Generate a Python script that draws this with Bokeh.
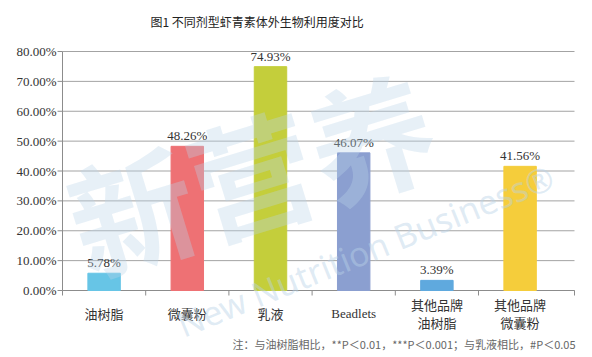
from bokeh.plotting import figure
from bokeh.models import Range1d, ColumnDataSource
from bokeh.core.properties import value
from bokeh.embed import file_html
from bokeh.resources import INLINE

# ---- data ----
categories = ["油树脂", "微囊粉", "乳液", "Beadlets", "其他品牌\n油树脂", "其他品牌\n微囊粉"]
values = [5.78, 48.26, 74.93, 46.07, 3.39, 41.56]
value_labels = ["5.78%", "48.26%", "74.93%", "46.07%", "3.39%", "41.56%"]
colors = ["#67c5e6", "#ee7174", "#c4ce3b", "#8b9fd0", "#5fa9de", "#f5cd3b"]
y_ticks = [0, 10, 20, 30, 40, 50, 60, 70, 80]
y_tick_labels = ["0.00%", "10.00%", "20.00%", "30.00%", "40.00%", "50.00%", "60.00%", "70.00%", "80.00%"]
title_text = "图1  不同剂型虾青素体外生物利用度对比"
note_text = "注：与油树脂相比，**P＜0.01，***P＜0.001；与乳液相比，#P＜0.05"

# ---- layout (pixels) ----
W, H = 592, 357
PL, PR, PT, PB = 62, 574, 51, 290   # plot-area edges in canvas pixels
CAT_W = 83.2
y_max = 80
ppu_y = (PB - PT) / y_max
x_end = (PR - PL) / CAT_W
LINE_PX = 17.5


def sx(px):
    return (px - PL) / CAT_W


def sy(py):
    return (PB - py) / ppu_y


p = figure(width=W, height=H,
           x_range=Range1d(sx(0), sx(W)), y_range=Range1d(sy(H), sy(0)),
           output_backend="svg", toolbar_location=None,
           min_border=0, min_border_left=0, min_border_right=0,
           min_border_top=0, min_border_bottom=0)
p.xaxis.visible = False
p.yaxis.visible = False
p.grid.visible = False
p.outline_line_color = None
p.background_fill_color = "white"
p.border_fill_color = "white"

AX = "#8c8c8c"
GRID = "#a3a3a3"
tick_len_x = 5 / CAT_W
tick_len_y = 5 / ppu_y

# gridlines
p.segment(x0=[0] * len(y_ticks), x1=[x_end] * len(y_ticks), y0=y_ticks, y1=y_ticks,
          line_color=GRID, line_width=1)

# y axis line, ticks, labels
p.segment(x0=[0], x1=[0], y0=[0], y1=[y_max], line_color=AX, line_width=1)
p.segment(x0=[-tick_len_x] * len(y_ticks), x1=[0] * len(y_ticks), y0=y_ticks, y1=y_ticks,
          line_color=AX, line_width=1)
p.text(x=[sx(56)] * len(y_ticks), y=y_ticks, text=y_tick_labels,
       text_align="right", text_baseline="middle",
       text_font=value("Liberation Serif"), text_font_size="13px", text_color="#333333")

# x axis line and boundary ticks
bounds = [0, 1, 2, 3, 4, 5, x_end]
p.segment(x0=[0], x1=[x_end], y0=[0], y1=[0], line_color=AX, line_width=1)
p.segment(x0=bounds, x1=bounds, y0=[0] * len(bounds), y1=[-tick_len_y] * len(bounds),
          line_color=AX, line_width=1)

xs = [i + 0.5 for i in range(len(categories))]
src = ColumnDataSource(dict(x=xs, top=values, color=colors, label=value_labels,
                            label_y=[v + 3 / ppu_y for v in values]))

# bars
p.vbar(x="x", top="top", bottom=0, width=0.39, color="color", source=src)

# value labels
p.text(x="x", y="label_y", text="label", source=src,
       text_align="center", text_baseline="bottom",
       text_font=value("Liberation Serif"), text_font_size="13px", text_color="#333333")

# category labels: each line centred as a block around y = 313 px
cx, cy, ct, cf = [], [], [], []
for xc, cat in zip(xs, categories):
    lines = cat.split("\n")
    n = len(lines)
    for k, ln in enumerate(lines):
        cx.append(xc)
        cy.append(sy(313 + (k - (n - 1) / 2) * LINE_PX))
        ct.append(ln)
        cf.append("Liberation Serif" if ln.isascii() else "Noto Sans CJK SC")
cat_src = ColumnDataSource(dict(x=cx, y=cy, text=ct, font=cf))
p.text(x="x", y="y", text="text", text_font="font", source=cat_src,
       text_align="center", text_baseline="middle",
       text_font_size="13px", text_color="#333333")

# title
p.text(x=[sx(258)], y=[sy(21)], text=[title_text], text_align="center",
       text_baseline="middle", text_font=value("Noto Sans CJK SC"),
       text_font_size="12px", text_color="#222222")

# note
p.text(x=[sx(575)], y=[sy(343)], text=[note_text], text_align="right",
       text_baseline="middle", text_font=value("Noto Sans CJK SC"),
       text_font_size="11px", text_color="#666666")

# faint watermark
p.text(x=[sx(250)], y=[sy(170)], text=["新营养"], text_align="center",
       text_baseline="middle", text_font=value("Noto Sans CJK SC"),
       text_font_size="125px", text_font_style="bold",
       text_color="#b9d3e8", text_alpha=0.35, angle=17, angle_units="deg")
p.text(x=[sx(365)], y=[sy(250)], text=["New Nutrition Business®"], text_align="center",
       text_baseline="middle", text_font=value("Noto Sans"),
       text_font_size="34px", text_color="#b9d3e8", text_alpha=0.45,
       angle=22, angle_units="deg")

open("out.html", "w").write(file_html(p, INLINE))
